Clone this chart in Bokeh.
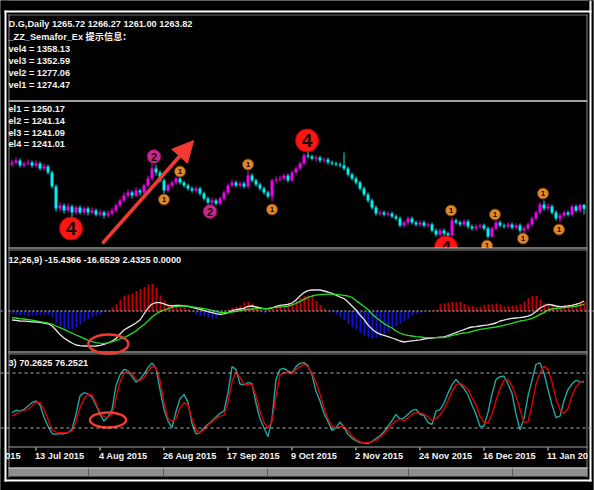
from bokeh.plotting import figure
from bokeh.models import Range1d, Arrow, NormalHead, ColumnDataSource, Span
from bokeh.core.properties import value
from bokeh.transform import dodge
from bokeh.embed import file_html
from bokeh.resources import INLINE

# ---------------- data ----------------
tick_idx = [6, 22, 38, 54, 70, 86, 102, 118, 134]
tick_labels = ["13 Jul 2015", "4 Aug 2015", "26 Aug 2015", "17 Sep 2015", "9 Oct 2015",
               "2 Nov 2015", "24 Nov 2015", "16 Dec 2015", "11 Jan 20"]
edge_label = "015"          # remainder of the label cut off at the left edge

opens = [
    1286, 1287, 1288, 1285.5, 1286.5, 1287, 1285.5, 1286.5, 1284, 1285,
    1282, 1275, 1264, 1265.5, 1263, 1265, 1262, 1264.5, 1262, 1264,
    1262, 1263, 1261, 1262, 1260.5, 1261.5, 1263, 1265.5, 1268, 1270.5,
    1272, 1270.5, 1273, 1272, 1275.5, 1279, 1284, 1282, 1278, 1273,
    1275.5, 1277, 1279, 1277, 1275.5, 1274, 1273, 1274, 1271.5, 1269,
    1267, 1268, 1266.5, 1269, 1272, 1275.5, 1277, 1275.5, 1276.5, 1275,
    1280.5, 1278, 1276, 1274, 1272, 1270, 1278, 1278.5, 1279, 1280.5,
    1278, 1282, 1284, 1286.5, 1290.5, 1290, 1289, 1289.5, 1288, 1288.5,
    1287, 1286.5, 1286, 1285.5, 1284, 1281, 1279, 1277, 1274, 1271,
    1268, 1264.5, 1261.5, 1262, 1261, 1261.5, 1260, 1259, 1255.5, 1257,
    1259, 1257, 1256, 1257, 1255.5, 1256, 1253, 1251, 1253, 1251.5,
    1250.5, 1258, 1257, 1256, 1257.5, 1255, 1254, 1255, 1255.5, 1254,
    1250, 1254, 1257, 1255.5, 1255, 1256, 1254.5, 1255.5, 1253, 1254,
    1256, 1259, 1262, 1266, 1264, 1265, 1262, 1259, 1260.5, 1262,
    1261, 1265, 1263, 1265.72]
closes = [
    1287, 1288, 1285.5, 1286.5, 1287, 1285.5, 1286.5, 1284, 1285, 1282,
    1275, 1264, 1265.5, 1263, 1265, 1262, 1264.5, 1262, 1264, 1262,
    1263, 1261, 1262, 1260.5, 1261.5, 1263, 1265.5, 1268, 1270.5, 1272,
    1270.5, 1273, 1272, 1275.5, 1279, 1284, 1282, 1278, 1273, 1275.5,
    1277, 1279, 1277, 1275.5, 1274, 1273, 1274, 1271.5, 1269, 1267,
    1268, 1266.5, 1269, 1272, 1275.5, 1277, 1275.5, 1276.5, 1275, 1280.5,
    1278, 1276, 1274, 1272, 1270, 1278, 1278.5, 1279, 1280.5, 1278,
    1282, 1284, 1286.5, 1290.5, 1290, 1289, 1289.5, 1288, 1288.5, 1287,
    1286.5, 1286, 1285.5, 1284, 1281, 1279, 1277, 1274, 1271, 1268,
    1264.5, 1261.5, 1262, 1261, 1261.5, 1260, 1259, 1255.5, 1257, 1259,
    1257, 1256, 1257, 1255.5, 1256, 1253, 1251, 1253, 1251.5, 1250.5,
    1258, 1257, 1256, 1257.5, 1255, 1254, 1255, 1255.5, 1254, 1250,
    1254, 1257, 1255.5, 1255, 1256, 1254.5, 1255.5, 1253, 1254, 1256,
    1259, 1262, 1266, 1264, 1265, 1262, 1259, 1260.5, 1262, 1261,
    1265, 1263, 1265.72, 1263.82]
highs = [
    1288.5, 1289.5, 1289, 1287.5, 1288.5, 1288, 1288, 1287.5, 1286.5, 1286,
    1283, 1276, 1267, 1266.5, 1266.5, 1266, 1265.5, 1265.5, 1265, 1265,
    1264.5, 1264, 1263.5, 1263, 1263, 1264.5, 1266.5, 1269, 1272, 1273.5,
    1273, 1274.5, 1274, 1276.5, 1280.5, 1287.5, 1286, 1283, 1279, 1276.5,
    1278, 1280, 1280.5, 1278, 1276.5, 1275, 1275, 1275, 1272.5, 1270,
    1269.5, 1269, 1270, 1273, 1276.5, 1278.5, 1278, 1277.5, 1277.5, 1283,
    1281.5, 1279, 1277, 1275, 1273, 1279, 1280, 1280.5, 1281.5, 1281.5,
    1283, 1285, 1287.5, 1291.5, 1292.5, 1291, 1290.5, 1290.5, 1289.5, 1289.5,
    1288, 1287.5, 1287, 1292, 1285, 1282, 1280, 1278, 1275, 1272,
    1269, 1265.5, 1263, 1263, 1262.5, 1262.5, 1261, 1260, 1258, 1260,
    1260, 1258, 1258, 1258, 1257, 1257, 1254, 1254, 1254, 1252.5,
    1259.5, 1259, 1258, 1258.5, 1258.5, 1256, 1256, 1256.5, 1256.5, 1255,
    1255, 1258.5, 1258, 1256.5, 1257, 1257, 1256.5, 1256.5, 1255, 1257,
    1260, 1263, 1267, 1268, 1266.5, 1266, 1263, 1261.5, 1263, 1263,
    1266, 1266, 1266.5, 1266.27]
lows = [
    1285, 1286, 1284.5, 1284.5, 1285.5, 1284.5, 1284.5, 1283, 1283, 1281,
    1274, 1262.5, 1262.5, 1261.5, 1262, 1258.5, 1261, 1261, 1261, 1260.5,
    1261, 1260, 1260, 1259, 1259.5, 1260.5, 1262, 1264.5, 1267, 1269.5,
    1269, 1269.5, 1270.5, 1271, 1274.5, 1278, 1280.5, 1277, 1271.5, 1272,
    1274.5, 1276, 1276, 1274.5, 1273, 1272, 1272, 1270.5, 1268, 1265.5,
    1266, 1265.5, 1265.5, 1268, 1271, 1274.5, 1274.5, 1274.5, 1274, 1274,
    1277, 1275, 1273, 1271, 1269, 1267.5, 1276.5, 1277.5, 1278, 1277,
    1277, 1281, 1283, 1285.5, 1289, 1288, 1287.5, 1287, 1287, 1286,
    1285.5, 1285, 1284.5, 1283, 1280, 1278, 1276, 1273, 1270, 1267,
    1263.5, 1260.5, 1260.5, 1260, 1260, 1259, 1258, 1254.5, 1254.5, 1256,
    1256, 1255, 1255, 1254.5, 1254.5, 1252, 1250, 1250, 1248.5, 1249.5,
    1250, 1256, 1255, 1255, 1254, 1253, 1253, 1254, 1253, 1249,
    1249.5, 1253, 1254.5, 1254, 1254, 1253.5, 1253.5, 1252, 1251.5, 1253,
    1255, 1258, 1261, 1263, 1263, 1261, 1258, 1257, 1259.5, 1260,
    1260, 1262, 1262, 1261.00]

# ZZ Semafor signals: bar position, price, level
sem_idx = [14.75, 35.5, 38, 42, 49.5, 59, 65, 73.75, 108.5, 109.75, 118.75, 120.75, 127.75, 132.75, 136.75]
sem_val = [1254, 1290, 1268.5, 1282.5, 1262.5, 1286, 1263.5, 1298, 1244.5, 1263, 1245.5, 1261, 1249, 1271.5, 1253.5]
sem_lvl = ["4", "2", "1", "1", "2", "1", "1", "4", "4", "1", "1", "1", "1", "1", "1"]

# MACD(12,26,9)
macd_main = [
    -4.5, -4.7, -5.0, -5.1, -5.2, -5.4, -5.5, -5.7, -6.0, -6.4,
    -7.5, -9.5, -11.8, -13.5, -14.8, -16.0, -17.0, -17.3, -17.5, -17.5,
    -17.6, -17.5, -17.2, -16.7, -16.0, -15.0, -13.8, -11.5, -9.5, -8.3,
    -7.2, -6.0, -4.5, -1.5, 1.5, 3.5, 4.2, 4.2, 3.6, 2.8,
    2.5, 2.8, 2.8, 2.6, 2.3, 1.8, 1.3, 0.8, 0.3, -0.3,
    -0.8, -1.3, -1.7, -1.4, -0.8, 0.2, 0.7, 1.0, 1.3, 2.3,
    2.5, 2.0, 1.6, 1.2, 1.1, 1.5, 2.3, 2.8, 3.1, 3.3,
    4.0, 5.5, 7.5, 9.2, 10.2, 10.5, 10.5, 10.5, 10.0, 9.5,
    8.8, 7.9, 7.0, 6.2, 4.5, 2.5, 0.5, -2.0, -4.2, -7.0,
    -9.0, -10.6, -11.6, -12.2, -12.8, -13.5, -14.2, -15.0, -15.5, -15.2,
    -14.9, -14.7, -14.4, -14.0, -13.7, -13.5, -13.3, -13.1, -12.9, -12.3,
    -11.5, -10.8, -10.0, -9.3, -8.5, -8.0, -7.8, -7.5, -7.2, -6.9,
    -6.5, -6.0, -5.0, -4.6, -4.0, -3.7, -3.5, -3.3, -3.0, -2.6,
    -1.8, -0.3, 1.5, 2.5, 3.3, 3.0, 2.5, 2.2, 2.3, 2.5,
    2.8, 3.3, 4.0, 5.0]
macd_signal = [
    -3.3, -3.5, -3.8, -4.0, -4.3, -4.6, -4.9, -5.3, -5.7, -6.1,
    -6.6, -7.5, -8.3, -9.2, -10.2, -11.0, -12.0, -12.8, -13.7, -14.6,
    -15.3, -15.8, -16.1, -16.2, -16.0, -15.3, -14.8, -14.0, -13.3, -12.3,
    -11.2, -10.0, -8.2, -6.7, -5.0, -3.0, -1.5, -0.3, 0.5, 1.2,
    1.8, 2.2, 2.4, 2.5, 2.4, 2.1, 1.8, 1.5, 1.2, 0.8,
    0.3, -0.2, -0.7, -0.8, -0.7, -0.5, -0.2, 0.2, 0.6, 0.8,
    1.0, 1.1, 1.2, 1.2, 1.3, 1.6, 1.8, 2.0, 2.2, 2.5,
    3.0, 3.8, 4.8, 5.8, 6.8, 7.5, 7.9, 8.2, 8.3, 8.4,
    8.4, 8.3, 8.1, 7.8, 7.5, 6.8, 5.2, 3.8, 2.3, 0.8,
    -1.5, -3.3, -4.8, -6.3, -7.5, -8.5, -10.0, -11.0, -11.8, -12.2,
    -12.5, -12.8, -13.0, -13.2, -13.3, -13.3, -13.3, -13.3, -13.3, -12.8,
    -12.2, -11.8, -11.3, -11.0, -10.8, -10.2, -9.7, -9.2, -8.9, -8.6,
    -8.3, -8.0, -7.6, -7.2, -6.7, -6.2, -5.6, -5.0, -4.7, -4.3,
    -3.7, -2.8, -1.7, -0.8, 0.5, 1.0, 1.3, 1.5, 1.7, 1.9,
    2.1, 2.3, 2.8, 3.3]
macd_hist = [
    -1.5, -1.8, -2.0, -2.2, -2.5, -2.3, -2.0, -1.8, -1.7, -2.0,
    -3.0, -5.8, -7.5, -8.8, -9.3, -9.0, -8.0, -6.8, -5.3, -4.0,
    -3.0, -2.3, -1.6, -0.8, 0.3, 1.7, 3.3, 5.5, 7.5, 8.2,
    8.8, 10.0, 11.0, 12.0, 13.3, 13.5, 11.5, 7.8, 5.2, 3.8,
    3.0, 2.8, 2.5, 1.7, 1.0, -0.5, -1.7, -2.5, -2.8, -3.3,
    -3.8, -3.5, -2.5, -1.0, 0.8, 1.7, 2.2, 2.8, 4.2, 4.5,
    3.8, 2.5, 0.5, -1.0, 0.3, 1.0, 1.7, 2.5, 3.3, 4.2,
    3.8, 5.0, 6.5, 7.5, 7.8, 7.5, 5.0, 3.0, 1.2, 0.3,
    -0.8, -1.7, -3.3, -4.5, -6.5, -8.0, -9.3, -11.0, -12.3, -13.3,
    -13.8, -13.3, -12.8, -11.7, -10.5, -8.5, -7.5, -6.5, -5.0, -3.8,
    -2.3, -1.5, -0.8, -0.4, -0.3, 0.2, 0.5, 3.3, 3.8, 4.2,
    4.5, 4.3, 4.5, 3.5, 2.8, 2.5, 1.7, 2.2, 3.0, 3.3,
    3.3, 3.8, 3.3, 2.2, 2.5, 2.5, 2.8, 3.3, 4.8, 6.5,
    7.5, 7.5, 5.8, 3.8, 2.8, 2.5, 2.2, 2.5, 2.8, 3.2,
    3.3, 4.0, 4.2, 4.5]

# Stochastic %K and %D
stoch_k = [
    36.7, 39.3, 38.5, 40.4, 44, 47.6, 49.5, 45, 32, 22,
    14, 13.1, 13.8, 13.8, 15, 18.5, 35, 55, 58.5, 57,
    54, 45, 35, 27.6, 32, 40, 66, 78, 84, 82.5,
    76, 70, 73, 79, 85.8, 91, 85, 62, 40, 27.6,
    20.4, 38, 52, 56.7, 48, 25, 13.5, 15, 20, 24,
    27.6, 32, 36, 38.5, 58, 87, 84, 68, 67, 69.5,
    68.5, 47, 30, 20, 10.5, 30, 73, 84, 85, 82,
    80.4, 87, 90.5, 91.3, 88, 78, 60, 49.5, 36, 27,
    17, 20.5, 26.5, 21, 13, 9, 6.3, 4, 3.5, 3,
    5.5, 8.5, 11.5, 16, 22, 28, 34.9, 29.5, 31, 35,
    39, 40.4, 35, 33.5, 26, 24, 38.5, 40, 47, 58,
    67, 73, 68, 63, 56, 45, 35, 21.5, 22.2, 37,
    57, 73, 76, 76.5, 68, 58, 35, 18, 30, 55,
    72, 89.5, 91, 80, 62, 45, 31.3, 33, 50, 62,
    68, 72, 70.5, 70.26]
stoch_d = [
    33, 35.5, 37.8, 39, 40.5, 44, 48, 48, 40, 29.5,
    18, 15.5, 14.9, 14.9, 15.5, 16.7, 27.6, 42, 52, 56.7,
    56, 47, 37, 32, 31.5, 34.9, 52, 70, 80, 82.2,
    79, 73, 72, 75, 82, 87, 86, 72, 48, 30,
    27.6, 30, 42, 47.6, 45, 30, 18, 14.9, 18, 23,
    26.5, 30.5, 33, 34, 48, 70, 82, 75, 68, 67.6,
    67.6, 55, 38, 26, 20.4, 27, 55, 78, 80.4, 80.4,
    79, 84, 87, 89.5, 87, 80, 70, 56.7, 42, 30,
    22.2, 20.4, 21.5, 21.5, 17, 11.3, 7.5, 5, 4, 4,
    5, 6.5, 10, 14, 19, 24, 28, 29.5, 28, 31,
    35, 36.7, 36.5, 35, 32, 28, 30.5, 34, 41, 49.5,
    60, 67, 69, 66, 62, 53, 45, 33, 26, 25.8,
    35, 50, 63, 72, 73, 66, 55, 40, 26, 27,
    45, 68, 80, 87.5, 84, 70, 52, 40, 36, 41,
    55, 65, 70, 71.5]
stoch_levels = [20, 80]

# hand-drawn annotations (bar position, value)
arrow_start = (22.6, 1246.5)
arrow_end = (45.4, 1298)
macd_ellipse = (24.1, -16.5, 10, 9.5)     # x, y, width(bars), height(macd)
stoch_ellipse = (24.0, 28.7, 9, 16.4)     # x, y, width(bars), height(stoch)

info_top = ["D.G,Daily  1265.72 1266.27 1261.00 1263.82", "_ZZ_Semafor_Ex 提示信息：",
            "vel4 = 1358.13", "vel3 = 1352.59", "vel2 = 1277.06", "vel1 = 1274.47"]
info_bot = ["el1 = 1250.17", "el2 = 1241.14", "el3 = 1241.09", "el4 = 1241.01"]
macd_label = "12,26,9) -15.4366 -16.6529 2.4325 0.0000"
stoch_label = "3) 70.2625 76.2521"

n = len(closes)
for arr in (opens, highs, lows, macd_main, macd_signal, macd_hist, stoch_k, stoch_d):
    assert len(arr) == n, len(arr)
idx = list(range(n))

# ---------------- figure ----------------
FONT = value("Liberation Sans, Noto Sans CJK SC")
FSIZE = "9.2px"
TXT = "#F4F4F4"
BULL, BEAR = "#F000F0", "#00F0F0"
W, H = 594, 490

p = figure(width=W, height=H, x_range=Range1d(-2.875, -2.875 + W / 4), y_range=Range1d(H, 0),
           output_backend="svg", toolbar_location=None, min_border=0,
           x_axis_location=None, y_axis_location=None,
           background_fill_color="#000000", border_fill_color="#000000", outline_line_color=None)
p.grid.visible = False
p.extra_x_ranges = {"px": Range1d(0, W)}
p.extra_y_ranges = {"price": Range1d(1368 - H / 2, 1368),
                    "macd": Range1d((310.5 - H) / 2, 310.5 / 2),
                    "stoch": Range1d(80 - (H - 372.5) * 60 / 55, 80 + 372.5 * 60 / 55)}

# candles
csrc = ColumnDataSource(dict(
    x=idx, h=highs, l=lows,
    top=[max(o, c) for o, c in zip(opens, closes)],
    bot=[min(o, c) for o, c in zip(opens, closes)],
    col=[BULL if c >= o else BEAR for o, c in zip(opens, closes)]))
p.segment("x", "h", "x", "l", source=csrc, line_color="col", line_width=1, y_range_name="price")
p.vbar(x="x", top="top", bottom="bot", width=0.75, source=csrc, fill_color="col",
       line_color=None, y_range_name="price")

# semafor markers
sem_size = {"1": 11, "2": 14, "4": 23}
sem_fill = {"1": "#E0892C", "2": "#C8288C", "4": "#FF1414"}
sem_line = {"1": "#7A3E0A", "2": "#6A0A48", "4": "#C00000"}
sem_font = {"1": "8px", "2": "11px", "4": "19px"}
ssrc = ColumnDataSource(dict(x=sem_idx, y=sem_val, t=sem_lvl,
                             s=[sem_size[k] for k in sem_lvl],
                             f=[sem_fill[k] for k in sem_lvl],
                             lc=[sem_line[k] for k in sem_lvl],
                             fs=[sem_font[k] for k in sem_lvl]))
p.scatter("x", "y", size="s", fill_color="f", line_color="lc", line_width=1,
          source=ssrc, y_range_name="price")
p.text("x", "y", text="t", source=ssrc, text_font_size="fs", text_font=value("Liberation Sans"),
       text_font_style="bold", text_color="#1A0A00", text_align="center",
       text_baseline="middle", y_range_name="price")

# cover indicator panes (clips the price pane)
p.quad(left=[8], right=[587], top=[247.5], bottom=[447], x_range_name="px",
       fill_color="#000000", line_color=None)

# MACD pane
p.add_layout(Span(location=0, dimension="width", y_range_name="macd",
                  line_color="#C8C8C8", line_dash="2 2", line_width=1))
hsrc = ColumnDataSource(dict(x=idx, top=[max(h, 0) for h in macd_hist],
                             bot=[min(h, 0) for h in macd_hist],
                             col=["#C00000" if h >= 0 else "#1010D0" for h in macd_hist]))
p.vbar(x=dodge("x", 0.125, range=p.x_range), top="top", bottom="bot", width=0.5,
       source=hsrc, fill_color="col", line_color=None, y_range_name="macd")
p.line(idx, macd_main, line_color="#E6E6E6", line_width=1.3, y_range_name="macd")
p.line(idx, macd_signal, line_color="#22E022", line_width=1.3, y_range_name="macd")

# Stochastic pane
for lv in stoch_levels:
    p.add_layout(Span(location=lv, dimension="width", y_range_name="stoch",
                      line_color="#B4B4B4", line_dash="3 3", line_width=1))
p.line(idx, stoch_k, line_color="#1FA89E", line_width=1.4, y_range_name="stoch")
p.line(idx, stoch_d, line_color="#E00000", line_width=1.4, y_range_name="stoch")

# outside the chart window: black margin (covers the spans there)
for l, r, t, b in [(0, 8, 0, H), (587, W, 0, H), (0, W, 0, 14), (0, W, 447, H)]:
    p.quad(left=[l], right=[r], top=[t], bottom=[b], x_range_name="px",
           fill_color="#000000", line_color=None)

def hline(y, color, w=1, x0=8, x1=587):
    p.segment(x0=[x0], y0=[y], x1=[x1], y1=[y], x_range_name="px", line_color=color, line_width=w)

def vline(x, color, y0, y1, w=1):
    p.segment(x0=[x], y0=[y0], x1=[x], y1=[y1], x_range_name="px", line_color=color, line_width=w)

# chart window border and pane separators
hline(14.5, "#707070")
hline(100.5, "#A0A0A0", 2)
hline(247.5, "#DADADA")
hline(249.5, "#8A8A8A")
hline(351.5, "#DADADA")
hline(353.5, "#8A8A8A")
hline(446.5, "#A8A8A8")
vline(8.5, "#8A8A8A", 14, 477)
vline(586.5, "#8A8A8A", 14, 477)

# date axis
p.segment(x0=tick_idx, y0=[447] * len(tick_idx), x1=tick_idx, y1=[450] * len(tick_idx),
          line_color="#E0E0E0", line_width=1)
p.text(x=tick_idx, y=[455.5] * len(tick_idx), text=tick_labels, text_font=FONT,
       text_font_size=FSIZE, text_font_style="bold", text_color=TXT, text_align="left",
       text_baseline="middle", x_offset=-1)
p.text(x=[20], y=[455.5], text=[edge_label], x_range_name="px", text_font=FONT,
       text_font_size=FSIZE, text_font_style="bold", text_color=TXT, text_align="right",
       text_baseline="middle")

# tab strip at the bottom
p.quad(left=[8], right=[587], top=[467], bottom=[476], x_range_name="px",
       fill_color="#8E8E8E", line_color=None)
hline(467.5, "#D2D2D2")
tabs_px = [88, 163, 267, 408, 512]
p.segment(x0=tabs_px, y0=[468] * 5, x1=tabs_px, y1=[476] * 5, x_range_name="px",
          line_color="#5A5A5A", line_width=1)

# outer white frame
hline(11, "#FFFFFF", 2, 4, 591)
hline(480, "#FFFFFF", 2, 4, 591)
vline(5, "#FFFFFF", 10, 481, 2)
vline(590, "#FFFFFF", 0, 481, 2)
vline(593, "#505050", 0, 490, 1)

# info texts
tk = dict(x_range_name="px", text_font=FONT, text_font_size=FSIZE, text_font_style="bold",
          text_color=TXT, text_align="left", text_baseline="middle")
p.text(x=[8] * len(info_top), y=[23.5, 36.5, 48, 60, 72, 84], text=info_top, **tk)
p.text(x=[8] * len(info_bot), y=[108, 120, 132, 143.5], text=info_bot, **tk)
p.text(x=[8, 8], y=[259, 362], text=[macd_label, stoch_label], **tk)

# hand-drawn red annotations
RED = "#F03A32"
p.ellipse(x=[macd_ellipse[0]], y=[macd_ellipse[1]], width=macd_ellipse[2], height=macd_ellipse[3],
          fill_color=None, line_color=RED, line_width=2.5, y_range_name="macd")
p.ellipse(x=[stoch_ellipse[0]], y=[stoch_ellipse[1]], width=stoch_ellipse[2], height=stoch_ellipse[3],
          fill_color=None, line_color=RED, line_width=2.5, y_range_name="stoch")
p.add_layout(Arrow(end=NormalHead(size=21, fill_color=RED, line_color=RED),
                   x_start=arrow_start[0], y_start=arrow_start[1],
                   x_end=arrow_end[0], y_end=arrow_end[1],
                   line_color=RED, line_width=3.5, y_range_name="price"))

open("out.html", "w").write(file_html(p, INLINE, title="chart"))
